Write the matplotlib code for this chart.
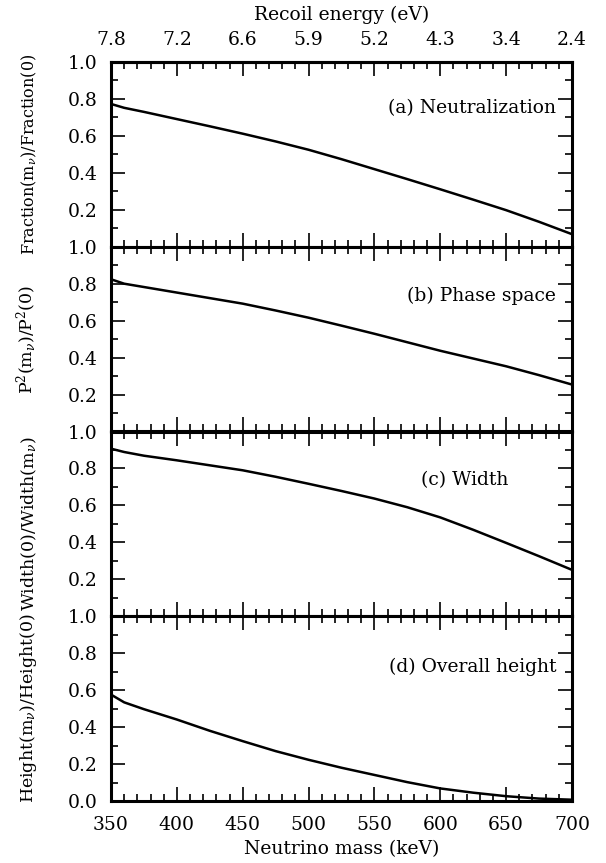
import matplotlib
matplotlib.use('Agg')
import matplotlib.pyplot as plt
from matplotlib.ticker import MultipleLocator, FixedLocator, NullFormatter
import numpy as np

plt.rcParams['font.family'] = ['DejaVu Serif']
plt.rcParams['mathtext.fontset'] = 'dejavuserif'

# data
mass = [350, 360, 375, 400, 425, 450, 475, 500, 525, 550, 575, 600, 625, 650, 675, 700]
neutralization = [0.773, 0.752, 0.730, 0.691, 0.652, 0.612, 0.570, 0.525, 0.474, 0.420,
                  0.366, 0.311, 0.255, 0.198, 0.135, 0.068]
phase_space = [0.824, 0.800, 0.782, 0.752, 0.722, 0.692, 0.655, 0.616, 0.573, 0.529,
               0.483, 0.437, 0.395, 0.353, 0.305, 0.254]
width = [0.907, 0.889, 0.869, 0.844, 0.817, 0.790, 0.755, 0.717, 0.678, 0.637,
         0.590, 0.535, 0.468, 0.397, 0.325, 0.251]
height = [0.576, 0.534, 0.497, 0.441, 0.380, 0.324, 0.270, 0.223, 0.180, 0.141,
          0.102, 0.068, 0.045, 0.026, 0.013, 0.007]

mass_ticks = [350, 400, 450, 500, 550, 600, 650, 700]
recoil_labels = ['7.8', '7.2', '6.6', '5.9', '5.2', '4.3', '3.4', '2.4']

series = [neutralization, phase_space, width, height]
ylabels = [r'Fraction(m$_\nu$)/Fraction(0)',
           r'P$^2$(m$_\nu$)/P$^2$(0)',
           r'Width(0)/Width(m$_\nu$)',
           r'Height(m$_\nu$)/Height(0)']
ylabel_sizes = [11.5, 12.5, 12.5, 12.5]
panel_titles = ['(a) Neutralization', '(b) Phase space', '(c) Width', '(d) Overall height']
title_x = [0.965, 0.965, 0.861, 0.967]
title_y = [0.753, 0.733, 0.735, 0.727]

fig, axes = plt.subplots(4, 1, figsize=(6.06, 8.63), dpi=100)
fig.subplots_adjust(left=111/606, right=572/606, top=1-62/863, bottom=1-801/863, hspace=0)

for i, ax in enumerate(axes):
    ax.plot(mass, series[i], color='black', lw=1.8)
    ax.set_xlim(350, 700)
    ax.set_ylim(0, 1.0)
    ax.xaxis.set_major_locator(FixedLocator(mass_ticks))
    ax.xaxis.set_minor_locator(MultipleLocator(10))
    ax.yaxis.set_minor_locator(MultipleLocator(0.1))
    ax.tick_params(which='both', direction='in', top=True, right=True,
                   labelsize=13.5, width=1.2)
    ax.tick_params(axis='y', pad=9.5)
    ax.tick_params(axis='x', pad=10.5)
    ax.tick_params(which='major', length=10)
    ax.tick_params(which='minor', length=5)
    for s in ax.spines.values():
        s.set_linewidth(2.2)
    if i < 3:
        ax.set_yticks([0.2, 0.4, 0.6, 0.8, 1.0])
        ax.set_yticklabels(['0.2', '0.4', '0.6', '0.8', '1.0'])
        ax.xaxis.set_major_formatter(NullFormatter())
    else:
        ax.set_yticks([0.0, 0.2, 0.4, 0.6, 0.8, 1.0])
        ax.set_yticklabels(['0.0', '0.2', '0.4', '0.6', '0.8', '1.0'])
        ax.set_xticklabels([str(m) for m in mass_ticks])
    ax.set_ylabel(ylabels[i], fontsize=ylabel_sizes[i], labelpad=21)
    ax.text(title_x[i], title_y[i], panel_titles[i], transform=ax.transAxes,
            ha='right', va='center', fontsize=13.5)

axes[-1].set_xlabel('Neutrino mass (keV)', fontsize=13.5, labelpad=5)

# recoil energy axis on top
axes[0].tick_params(which='both', top=False)
top = axes[0].secondary_xaxis('top')
top.set_xticks(mass_ticks)
top.set_xticklabels(recoil_labels)
top.xaxis.set_minor_locator(MultipleLocator(10))
top.tick_params(which='both', direction='in', labelsize=13.5, width=1.2, pad=9)
top.tick_params(which='major', length=10)
top.tick_params(which='minor', length=5)
top.spines['top'].set_linewidth(2.2)
top.set_xlabel('Recoil energy (eV)', fontsize=13.5, labelpad=8)

fig.align_ylabels(axes)

plt.savefig('out.png', dpi=100)
